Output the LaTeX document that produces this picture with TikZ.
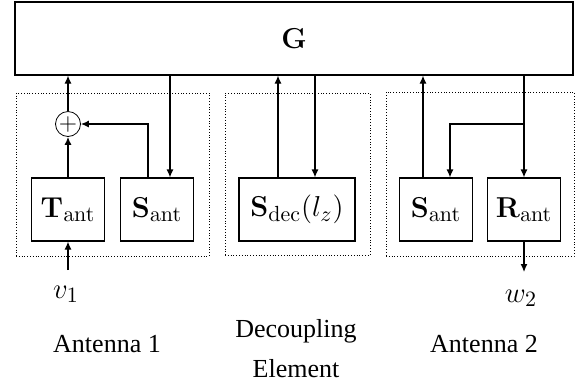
\documentclass[tikz,border=0pt]{standalone}
\usepackage{amsmath,amssymb}
\usepackage[no-math]{fontspec}
\newfontfamily\labelfont{Liberation Serif}
\usetikzlibrary{positioning,calc,arrows.meta}

\tikzset{
  blk/.style={rectangle,draw,semithick,minimum width=36.5pt,minimum height=31.5pt,inner sep=0pt,font=\fontsize{15.8}{19}\selectfont},
  grp/.style={rectangle,draw,densely dotted,thin,inner sep=0pt},
  sumnode/.style={circle,draw,thin,minimum size=12.5pt,inner sep=0pt,font=\fontsize{12}{12}\selectfont},
  arr/.style={semithick,-{Latex[length=4pt,width=3.5pt]}},
  lbl/.style={font=\labelfont\fontsize{13}{20}\selectfont,align=center},
  sig/.style={font=\fontsize{15.8}{19}\selectfont},
}

\begin{document}
\begin{tikzpicture}[x=0.5pt,y=-0.5pt]
\useasboundingbox (0,0) rectangle (584,387);
% network block
\node[blk,minimum width=279pt,minimum height=36.5pt] (G) at (294,38.5) {$\mathbf{G}$};
% dotted groups
\node[grp,minimum width=96.5pt,minimum height=81.5pt] (grpA) at (112.5,174.5) {};
\node[grp,minimum width=72.5pt,minimum height=81pt] (grpD) at (297.5,174) {};
\node[grp,minimum width=94pt,minimum height=82pt] (grpB) at (480,174) {};
% blocks
\node[blk] (Tant) at (68,209.5) {$\mathbf{T}_{\mathrm{ant}}$};
\node[blk] (SantA) at (157,209.5) {$\mathbf{S}_{\mathrm{ant}}$};
\node[blk,minimum width=58pt] (Sdec) at (297,209.5) {$\mathbf{S}_{\mathrm{dec}}(l_z)$};
\node[blk] (SantB) at (436,209.5) {$\mathbf{S}_{\mathrm{ant}}$};
\node[blk] (Rant) at (524,209.5) {$\mathbf{R}_{\mathrm{ant}}$};
\node[sumnode] (sum) at (68,124) {$+$};
% antenna 1
\draw[arr] (Tant) -- (sum);
\draw[arr] (sum) -- (sum |- G.south);
\draw[arr] ([xshift=-4.5pt]SantA.north) |- (sum);
\draw[arr] ([xshift=6.5pt]SantA.north |- G.south) -- ([xshift=6.5pt]SantA.north);
% decoupling element
\draw[arr] ([xshift=-9.5pt]Sdec.north) -- ([xshift=-9.5pt]Sdec.north |- G.south);
\draw[arr] ([xshift=9pt]Sdec.north |- G.south) -- ([xshift=9pt]Sdec.north);
% antenna 2
\draw[arr] ([xshift=-6.5pt]SantB.north) -- ([xshift=-6.5pt]SantB.north |- G.south);
\draw[arr] (Rant.north |- G.south) -- (Rant);
\draw[arr] (Rant.north |- sum) -| ([xshift=7pt]SantB.north);
% ports
\coordinate (v1in) at (68,270);
\coordinate (w2out) at (524,272);
\draw[arr] (v1in) -- (Tant);
\draw[arr] (Rant) -- (w2out);
\node[sig,anchor=base] (v1) at (66,298) {$v_1$};
\node[sig,anchor=base] (w2) at (521,302) {$w_2$};
% captions
\node[lbl,anchor=base] (capA) at (107,352) {Antenna 1};
\node[lbl] (capD) at (296,349) {Decoupling\\Element};
\node[lbl,anchor=base] (capB) at (484,352) {Antenna 2};
\end{tikzpicture}
\end{document}
